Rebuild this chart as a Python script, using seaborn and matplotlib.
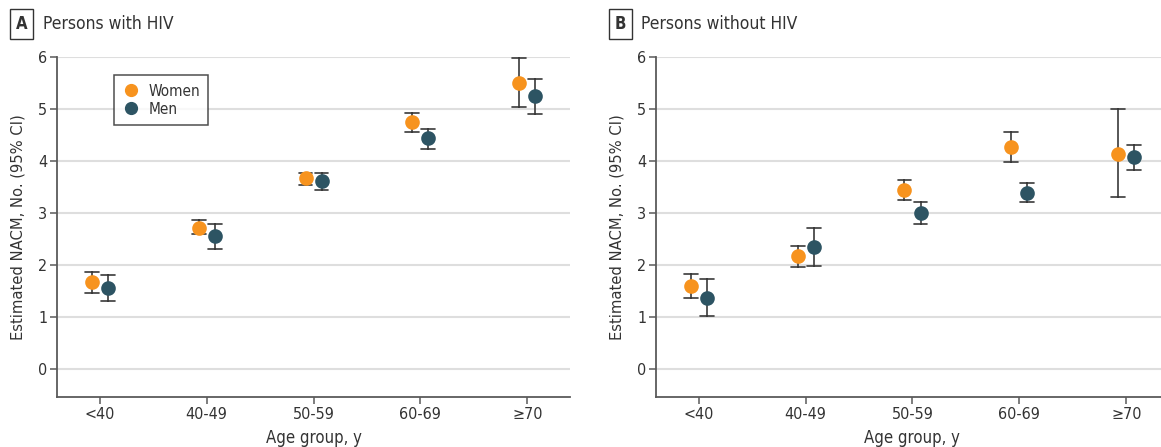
import seaborn as sns
import matplotlib.pyplot as plt
from matplotlib.lines import Line2D
import pandas as pd

ages = ['<40', '40-49', '50-59', '60-69', '≥70']
sexes = ['Women', 'Men']
colors = {'Women': '#F7931E', 'Men': '#2D5463'}

# panel A: persons with HIV (estimate, lower, upper)
hiv_women = [1.68, 2.72, 3.67, 4.76, 5.51]
hiv_women_lo = [1.47, 2.60, 3.54, 4.56, 5.04]
hiv_women_hi = [1.88, 2.87, 3.78, 4.93, 5.99]
hiv_men = [1.57, 2.56, 3.62, 4.44, 5.25]
hiv_men_lo = [1.31, 2.31, 3.44, 4.24, 4.91]
hiv_men_hi = [1.82, 2.79, 3.78, 4.63, 5.59]

# panel B: persons without HIV
nohiv_women = [1.60, 2.18, 3.44, 4.28, 4.15]
nohiv_women_lo = [1.37, 1.97, 3.26, 3.99, 3.32]
nohiv_women_hi = [1.84, 2.38, 3.65, 4.57, 5.00]
nohiv_men = [1.38, 2.35, 3.00, 3.40, 4.08]
nohiv_men_lo = [1.03, 1.99, 2.80, 3.22, 3.84]
nohiv_men_hi = [1.73, 2.71, 3.22, 3.59, 4.32]


def long_table(women, women_lo, women_hi, men, men_lo, men_hi):
    rows = []
    for sex, est, lo, hi in [('Women', women, women_lo, women_hi),
                             ('Men', men, men_lo, men_hi)]:
        for i, age in enumerate(ages):
            for v in (lo[i], est[i], hi[i]):
                rows.append({'age': age, 'sex': sex, 'value': v})
    return pd.DataFrame(rows)


df_a = long_table(hiv_women, hiv_women_lo, hiv_women_hi, hiv_men, hiv_men_lo, hiv_men_hi)
df_b = long_table(nohiv_women, nohiv_women_lo, nohiv_women_hi, nohiv_men, nohiv_men_lo, nohiv_men_hi)

sns.set_style('white')
plt.rcParams['font.family'] = ['DejaVu Sans']
plt.rcParams['font.stretch'] = 'condensed'
text_color = '#333333'
axis_color = '#5a5a5a'

fig = plt.figure(figsize=(11.61, 4.47), dpi=100)
ax_a = fig.add_axes([0.0491, 0.1119, 0.4419, 0.760])
ax_b = fig.add_axes([0.565, 0.1119, 0.4419, 0.760])

for ax, df in [(ax_a, df_a), (ax_b, df_b)]:
    sns.pointplot(data=df, x='age', y='value', hue='sex', order=ages, hue_order=sexes,
                  palette=colors, estimator='median',
                  errorbar=lambda v: (v.min(), v.max()),
                  dodge=0.15, linestyle='none', markers='o', markersize=8.5,
                  capsize=0.13, zorder=3,
                  err_kws={'color': '#3a3a3a', 'linewidth': 1.2, 'zorder': 2},
                  ax=ax)
    if ax.legend_ is not None:
        ax.legend_.remove()
    ax.set_xlim(-0.4, 4.4)
    ax.set_ylim(-0.53, 6)
    ax.set_yticks(range(0, 7))
    ax.yaxis.grid(True, color='#dedede', linewidth=1.5)
    ax.set_axisbelow(True)
    for s in ['top', 'right']:
        ax.spines[s].set_visible(False)
    for s in ['left', 'bottom']:
        ax.spines[s].set_color(axis_color)
        ax.spines[s].set_linewidth(1.3)
    ax.tick_params(axis='both', direction='out', length=5, width=1.1, color=axis_color,
                   labelsize=11.5, labelcolor=text_color, left=True, bottom=True, pad=2)
    ax.set_xlabel('Age group, y', fontsize=12, color=text_color, labelpad=5)
    ax.set_ylabel('Estimated NACM, No. (95% CI)', fontsize=11.8, color=text_color, labelpad=9)

handles = [Line2D([], [], marker='o', linestyle='none', markersize=8.5,
                  color=colors[s]) for s in sexes]
leg = ax_a.legend(handles, sexes, loc='upper left', bbox_to_anchor=(0.111, 0.947),
                  borderaxespad=0, frameon=True, fancybox=False, fontsize=11,
                  handletextpad=0.6, handlelength=1.1, borderpad=0.55, labelspacing=0.2)
leg.get_frame().set_edgecolor('#222222')
leg.get_frame().set_linewidth(1.1)
for t in leg.get_texts():
    t.set_color(text_color)

for lx, tx, letter, title in [(0.0185, 0.037, 'A', 'Persons with HIV'),
                              (0.5345, 0.552, 'B', 'Persons without HIV')]:
    fig.text(lx, 0.947, letter, ha='center', va='center', fontsize=12, fontweight='bold',
             color=text_color,
             bbox=dict(boxstyle='square,pad=0.35', fc='white', ec='#333333', lw=1))
    fig.text(tx, 0.947, title, ha='left', va='center', fontsize=12.5, color=text_color)

fig.savefig('out.png', dpi=100)
